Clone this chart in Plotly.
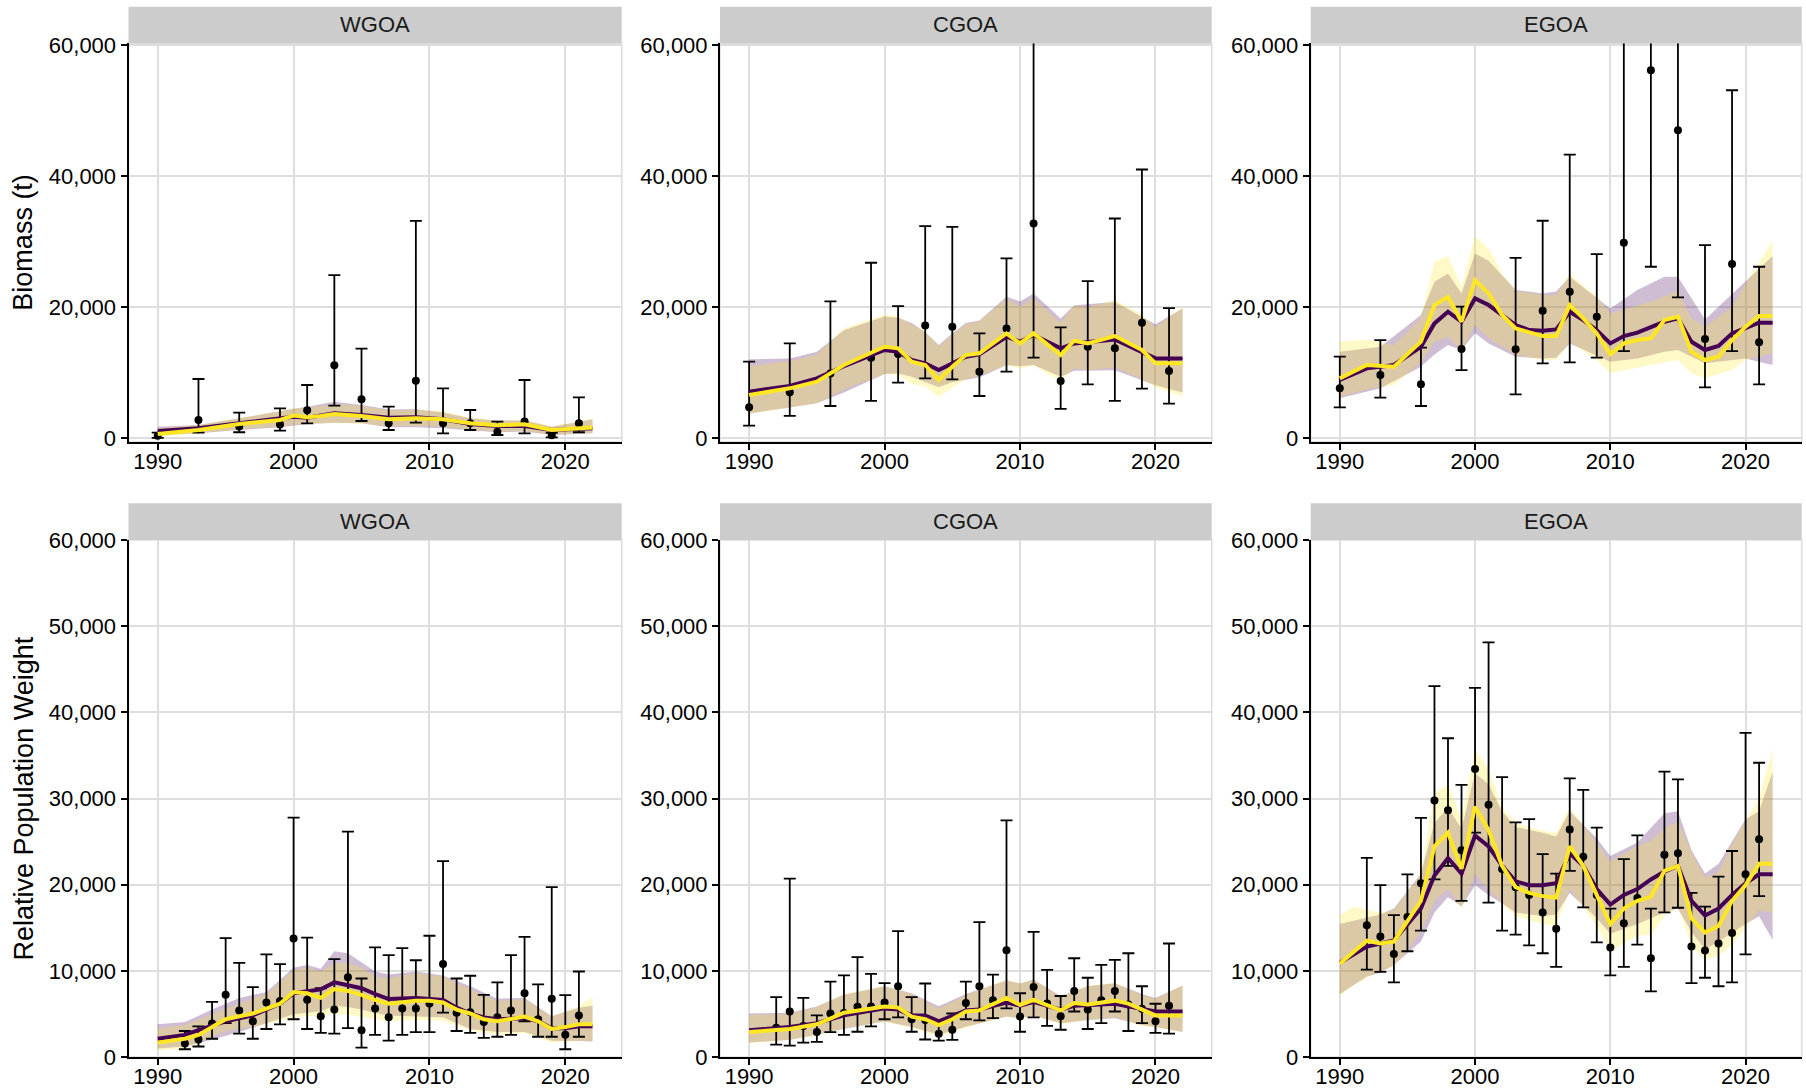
import plotly.graph_objects as go

# ---------------------------------------------------------------------------
# Data
# ---------------------------------------------------------------------------
REGIONS = ["WGOA", "CGOA", "EGOA"]
X_TICKS = [1990, 2000, 2010, 2020]
BIO_Y_TICKS = [0, 20000, 40000, 60000]
RPW_Y_TICKS = [0, 10000, 20000, 30000, 40000, 50000, 60000]

# Bottom trawl survey biomass (t): estimate with lower / upper interval
WGOA_BIO_YEARS = [1990, 1993, 1996, 1999, 2001, 2003, 2005, 2007, 2009, 2011, 2013, 2015, 2017, 2019, 2021]
WGOA_BIO = [400, 2800, 1800, 2100, 4300, 11150, 5950, 2300, 8800, 2300, 2300, 1000, 2550, 450, 2300]
WGOA_BIO_LO = [50, 880, 920, 1170, 2290, 4980, 2640, 1270, 2390, 760, 1270, 500, 760, 150, 920]
WGOA_BIO_HI = [870, 9050, 3920, 4580, 8140, 24920, 13680, 4830, 33200, 7630, 4320, 2540, 8900, 850, 6260]

CGOA_BIO_YEARS = [1990, 1993, 1996, 1999, 2001, 2003, 2005, 2007, 2009, 2011, 2013, 2015, 2017, 2019, 2021]
CGOA_BIO = [4730, 7020, 9900, 12300, 12870, 17240, 17030, 10170, 16780, 32800, 8750, 13980, 13730, 17650, 10270]
CGOA_BIO_LO = [1930, 3410, 4930, 5700, 8490, 9150, 9000, 6460, 10170, 12310, 4480, 8240, 5700, 7580, 5290]
CGOA_BIO_HI = [11700, 14490, 20900, 26800, 20190, 32390, 32290, 16020, 27460, 88000, 16930, 24000, 33560, 41040, 19880]

EGOA_BIO_YEARS = [1990, 1993, 1996, 1999, 2003, 2005, 2007, 2009, 2011, 2013, 2015, 2017, 2019, 2021]
EGOA_BIO = [7630, 9660, 8240, 13630, 13580, 19480, 22370, 18560, 29850, 56190, 47040, 15150, 26600, 14650]
EGOA_BIO_LO = [4730, 6200, 4930, 10420, 6710, 11440, 11590, 12310, 13320, 26190, 21510, 7780, 13320, 8240]
EGOA_BIO_HI = [12460, 15000, 13830, 20090, 27560, 33210, 43320, 28120, 75000, 95000, 80000, 29490, 53140, 26190]

# Longline survey relative population weight
RPW_YEARS = [1992, 1993, 1994, 1995, 1996, 1997, 1998, 1999, 2000, 2001,
             2002, 2003, 2004, 2005, 2006, 2007, 2008, 2009, 2010, 2011,
             2012, 2013, 2014, 2015, 2016, 2017, 2018, 2019, 2020, 2021]

WGOA_RPW = [1580, 2030, 3900, 7220, 5410, 4150, 6320, 6500, 13760, 6630,
            4740, 5500, 9250, 3110, 5640, 4600, 5640, 5640, 6200, 10780,
            5140, 5200, 4060, 4600, 5410, 7400, 4380, 6770, 2570, 4830]
WGOA_RPW_LO = [900, 1220, 2120, 3920, 2710, 2120, 3250, 3790, 4380, 3250,
               2800, 2710, 3340, 1080, 2570, 1890, 2570, 2890, 2890, 5140,
               3020, 2800, 2210, 2350, 2570, 4150, 2350, 2350, 900, 2350]
WGOA_RPW_HI = [3020, 3560, 6400, 13800, 10920, 8120, 11910, 10780, 27790, 13850,
               7980, 11370, 26160, 9110, 12720, 11820, 12630, 11230, 14070, 22730,
               9110, 9430, 7220, 8660, 11820, 13940, 8440, 19710, 7170, 9920]

CGOA_RPW = [3400, 5280, 3600, 2890, 5050, 5100, 5820, 5860, 6320, 8210,
            4380, 4300, 2710, 3160, 6270, 8210, 6600, 12400, 4690, 8120,
            6200, 4740, 7670, 5500, 6600, 7670, 6100, 5600, 4150, 5950]
CGOA_RPW_LO = [1440, 1310, 1670, 1760, 2890, 2570, 2930, 3560, 4380, 4600,
               2930, 2030, 1890, 1990, 4380, 4240, 4510, 5640, 2930, 4600,
               3610, 3160, 5280, 3250, 3920, 5280, 3020, 3920, 2800, 2710]
CGOA_RPW_HI = [6950, 20700, 6860, 4830, 8750, 9470, 11590, 9650, 8570, 14610,
               6950, 8530, 3900, 5050, 8750, 15650, 9560, 27470, 7400, 14520,
               10100, 7080, 11460, 9200, 10690, 11280, 12040, 8210, 6180, 13170]

EGOA_RPW = [15290, 13980, 11950, 16240, 20160, 29770, 28640, 24000, 33420, 29270,
            21830, 19710, 18810, 16780, 14890, 26390, 23230, 18810, 12720, 15520,
            18450, 11460, 23460, 23640, 12810, 12360, 13170, 14390, 21200, 25260]
EGOA_RPW_LO = [10150, 9880, 8660, 12270, 14660, 20610, 22190, 18130, 26030, 17910,
               14660, 14210, 12950, 12040, 10470, 21610, 17370, 13310, 9470, 10470,
               13040, 7620, 16780, 17320, 8570, 9200, 8210, 8660, 11910, 18670]
EGOA_RPW_HI = [23100, 19940, 16460, 21200, 27740, 43030, 36990, 31570, 42850, 48130,
               32480, 27240, 27610, 23550, 21290, 32340, 30990, 26610, 17230, 22960,
               25710, 17230, 33110, 32210, 19040, 17460, 20930, 23910, 37620, 34150]

# Model fits: purple model (M1) and yellow model (M2), each with a 95% band
# -- WGOA biomass
WGOA_BIO_M1_YEARS = [1990, 1993, 1996, 1999, 2000, 2001, 2003, 2005, 2007, 2009, 2011, 2013, 2015, 2017, 2019, 2022]
WGOA_BIO_M1 = [1120, 1530, 2290, 2950, 3300, 3150, 3810, 3560, 3150, 3200, 2900, 2190, 1880, 1880, 1270, 1530]
WGOA_BIO_M1_LO = [510, 760, 1270, 1680, 1900, 2190, 2390, 2290, 1680, 1680, 1530, 1270, 920, 1020, 510, 760]
WGOA_BIO_M1_HI = [1780, 2030, 3050, 4220, 4500, 4830, 5590, 5090, 4420, 4420, 3920, 3050, 2700, 2700, 1780, 2900]
WGOA_BIO_M2_YEARS = [1990, 1993, 1996, 1999, 2000, 2001, 2002, 2003, 2005, 2007, 2009, 2011, 2013, 2015, 2017, 2019, 2022]
WGOA_BIO_M2 = [660, 1270, 2190, 2800, 3460, 3200, 3410, 3710, 3410, 2900, 3050, 2900, 2290, 1980, 2140, 1270, 1630]
WGOA_BIO_M2_LO = [300, 760, 1370, 1780, 2050, 2140, 2240, 2340, 2240, 1830, 1880, 1780, 1320, 1020, 1120, 560, 860]
WGOA_BIO_M2_HI = [1530, 2030, 3100, 4120, 4600, 4680, 4900, 5240, 4980, 4270, 4370, 4120, 3150, 2650, 2850, 1830, 3000]

# -- CGOA biomass
CGOA_BIO_M1_YEARS = [1990, 1993, 1995, 1997, 2000, 2001, 2002, 2003, 2004, 2005, 2006, 2007, 2009, 2010, 2011, 2013, 2014, 2017, 2020, 2022]
CGOA_BIO_M1 = [7120, 8000, 9150, 11000, 13480, 13220, 11950, 11440, 10420, 11440, 12460, 12810, 15510, 14750, 15760, 13730, 14490, 15100, 12200, 12200]
CGOA_BIO_M1_LO = [3800, 4700, 5340, 7000, 9800, 9900, 9400, 8600, 7800, 8600, 9000, 9300, 11200, 11000, 11200, 9400, 10300, 10400, 8100, 7000]
CGOA_BIO_M1_HI = [12050, 12200, 13200, 16500, 18600, 18400, 17600, 16200, 14250, 16000, 17600, 18000, 21600, 20900, 22100, 18300, 20300, 20800, 17400, 19800]
CGOA_BIO_M2_YEARS = [1990, 1993, 1995, 1997, 2000, 2001, 2002, 2003, 2004, 2005, 2006, 2007, 2009, 2010, 2011, 2013, 2014, 2015, 2017, 2019, 2020, 2022]
CGOA_BIO_M2 = [6610, 7630, 8640, 11190, 13980, 13730, 11700, 11190, 8900, 10930, 12710, 12970, 16020, 14490, 16020, 12710, 14900, 14490, 15610, 13480, 11440, 11440]
CGOA_BIO_M2_LO = [3700, 4700, 5340, 7500, 9800, 9700, 8300, 7900, 6350, 7700, 9000, 9500, 11200, 10600, 11100, 8700, 10700, 10400, 10800, 9000, 7800, 6400]
CGOA_BIO_M2_HI = [11000, 11800, 12800, 16800, 18900, 18600, 17300, 16400, 14000, 15800, 17400, 17900, 21300, 20100, 21400, 17600, 20300, 20000, 21100, 18900, 17000, 20000]

# -- EGOA biomass
EGOA_BIO_M1_YEARS = [1990, 1992, 1994, 1996, 1997, 1998, 1999, 2000, 2001, 2002, 2003, 2004, 2005, 2006, 2007,
                     2008, 2009, 2010, 2011, 2012, 2013, 2014, 2015, 2016, 2017, 2018, 2019, 2020, 2021, 2022]
EGOA_BIO_M1 = [8900, 10680, 11190, 13980, 17540, 19320, 17800, 21360, 20340, 18820, 17290, 16530, 16430, 16630, 19320,
               18050, 16500, 14490, 15610, 16120, 17040, 17800, 18310, 14750, 13480, 14090, 16020, 16780, 17650, 17650]
EGOA_BIO_M1_BAND_YEARS = [1990, 1993, 1996, 1997, 1998, 1999, 2000, 2001, 2003, 2005, 2006, 2007, 2010, 2012, 2014,
                          2015, 2017, 2020, 2022]
EGOA_BIO_M1_LO = [6100, 7630, 10930, 12800, 14240, 13480, 16020, 14490, 12460, 12200, 12300, 14490, 11700, 12200, 13200,
                  13480, 11440, 12200, 11190]
EGOA_BIO_M1_HI = [13220, 13980, 18820, 23900, 25170, 22120, 28220, 27100, 22630, 22120, 22400, 24660, 19830, 22630, 24660,
                  24660, 18150, 23900, 27820]
EGOA_BIO_M2_YEARS = EGOA_BIO_M1_YEARS
EGOA_BIO_M2 = [9150, 11190, 10930, 14750, 20340, 21610, 17800, 24150, 22120, 18820, 16780, 16120, 15610, 15610, 20340,
               18310, 16020, 12810, 14490, 15000, 15260, 18050, 18560, 13220, 11950, 12460, 15000, 17040, 18660, 18660]
EGOA_BIO_M2_BAND_YEARS = [1990, 1992, 1994, 1996, 1997, 1998, 1999, 2000, 2001, 2002, 2003, 2005, 2006, 2007, 2009,
                          2010, 2013, 2015, 2016, 2017, 2019, 2020, 2022]
EGOA_BIO_M2_LO = [6360, 7500, 8100, 11700, 14750, 15510, 13480, 17290, 15300, 14000, 12710, 11950, 11900, 14750, 11900,
                  9920, 11190, 11950, 9920, 9150, 10420, 12000, 12970]
EGOA_BIO_M2_HI = [14750, 15100, 14240, 18310, 26950, 27820, 23140, 30870, 28990, 25170, 22530, 21870, 21900, 25070, 21610,
                  19070, 20850, 22500, 18310, 17040, 20000, 23650, 30150]

# -- WGOA RPW
WGOA_RPW_M1_YEARS = [1990, 1992, 1993, 1995, 1997, 1999, 2000, 2001, 2002, 2003, 2004, 2005, 2006, 2007, 2009,
                     2011, 2012, 2013, 2014, 2015, 2017, 2018, 2019, 2020, 2021, 2022]
WGOA_RPW_M1 = [2120, 2570, 3110, 4150, 4830, 6180, 7400, 7670, 7850, 8660, 8300, 7980, 7310, 6720, 6860,
               6630, 5730, 5050, 4600, 4380, 4510, 4150, 3340, 3340, 3560, 3560]
WGOA_RPW_M1_BAND_YEARS = [1990, 1992, 1994, 1996, 1998, 2000, 2001, 2002, 2003, 2004, 2005, 2006, 2007, 2009, 2011,
                          2013, 2015, 2017, 2019, 2021, 2022]
WGOA_RPW_M1_LO = [990, 1220, 2000, 2900, 3920, 4960, 5140, 5300, 5950, 5800, 5500, 5100, 4830, 4690, 4600,
                  3250, 2890, 2900, 1890, 1850, 1800]
WGOA_RPW_M1_HI = [3790, 4060, 5500, 6860, 7530, 10370, 10690, 10240, 12270, 12040, 11000, 9920, 9560, 9920, 9470,
                  8210, 6770, 6860, 4740, 5730, 5950]
WGOA_RPW_M2_YEARS = [1990, 1992, 1993, 1995, 1997, 1999, 2000, 2001, 2002, 2003, 2004, 2005, 2006, 2007, 2009,
                     2010, 2011, 2012, 2013, 2014, 2015, 2016, 2017, 2018, 2019, 2020, 2021, 2022]
WGOA_RPW_M2 = [1670, 2120, 2570, 4380, 5050, 6180, 7530, 7400, 6860, 7890, 7670, 7220, 6630, 6180, 6540,
               6540, 6320, 5500, 5050, 4380, 4150, 4470, 4690, 4150, 3250, 3470, 3790, 3790]
WGOA_RPW_M2_BAND_YEARS = [1990, 1992, 1995, 1998, 2000, 2001, 2002, 2003, 2004, 2005, 2006, 2007, 2009, 2011, 2013,
                          2015, 2017, 2019, 2021, 2022]
WGOA_RPW_M2_LO = [770, 1000, 3020, 3790, 4600, 4700, 4800, 5050, 4900, 4690, 4400, 4150, 4300, 4200, 3100,
                  2570, 2800, 1670, 1850, 1890]
WGOA_RPW_M2_HI = [3300, 3700, 5600, 7300, 10100, 10400, 9900, 10900, 10900, 10400, 9340, 9100, 9790, 9300, 7900,
                  6500, 6700, 4700, 5900, 6950]

# -- CGOA RPW
CGOA_RPW_M1_YEARS = [1990, 1993, 1995, 1997, 2000, 2001, 2002, 2003, 2004, 2005, 2006, 2007, 2009, 2010, 2011,
                     2013, 2014, 2017, 2020, 2022]
CGOA_RPW_M1 = [3110, 3470, 3920, 4830, 5640, 5500, 4830, 4830, 4150, 4830, 5410, 5500, 6320, 5950, 6410,
               5500, 5950, 6180, 5280, 5280]
CGOA_RPW_BAND_YEARS = [1990, 1993, 1995, 1997, 2000, 2002, 2004, 2006, 2009, 2010, 2011, 2013, 2015, 2017, 2019,
                       2020, 2022]
CGOA_RPW_M1_LO = [1670, 1990, 2570, 3250, 4150, 3470, 2600, 3500, 4690, 4500, 4830, 3920, 4300, 4510, 3700, 3470, 2890]
CGOA_RPW_M1_HI = [5050, 5140, 5860, 7220, 8210, 7400, 5900, 7310, 8890, 8530, 8980, 7080, 8210, 8570, 7310, 6860, 8300]
CGOA_RPW_M2_YEARS = [1990, 1993, 1995, 1997, 2000, 2001, 2002, 2003, 2004, 2005, 2006, 2007, 2009, 2010, 2011,
                     2013, 2014, 2015, 2017, 2018, 2020, 2022]
CGOA_RPW_M2 = [2890, 3250, 3790, 5140, 5860, 5730, 4690, 4380, 3700, 4380, 5280, 5410, 6860, 6040, 6630,
               5410, 6270, 6100, 6540, 6200, 4830, 4830]
CGOA_RPW_M2_LO = [1600, 1950, 2500, 3300, 4100, 3400, 2300, 3400, 4700, 4400, 4800, 3800, 4300, 4600, 3600, 3400, 2900]
CGOA_RPW_M2_HI = [4900, 5000, 5800, 7300, 8200, 7300, 5600, 7200, 9000, 8500, 9000, 7000, 8300, 8600, 7200, 6700, 8300]

# -- EGOA RPW
EGOA_RPW_M_YEARS = [1990, 1992, 1993, 1994, 1996, 1997, 1998, 1999, 2000, 2001, 2002, 2003, 2004, 2005, 2006, 2007,
                    2008, 2009, 2010, 2011, 2012, 2013, 2014, 2015, 2016, 2017, 2018, 2019, 2020, 2021, 2022]
EGOA_RPW_M1 = [10920, 12810, 13170, 13530, 17230, 21070, 23090, 21290, 25710, 24450, 22190, 20390, 19940, 19940, 20160,
               23640, 22190, 19490, 17680, 18810, 19490, 20610, 21520, 22190, 18130, 16420, 17230, 18810, 20160, 21200,
               21200]
EGOA_RPW_M1_BAND_YEARS = [1990, 1992, 1993, 1994, 1996, 1997, 1998, 1999, 2000, 2001, 2002, 2003, 2005, 2006, 2007,
                          2009, 2010, 2012, 2014, 2015, 2016, 2017, 2018, 2020, 2021, 2022]
EGOA_RPW_M1_LO = [7310, 9340, 9790, 10690, 13400, 16780, 18580, 17460, 19940, 18810, 17800, 16780, 16330, 16550, 19040,
                  16100, 14300, 15430, 16780, 17230, 14520, 12500, 13400, 15430, 16330, 13620]
EGOA_RPW_M1_HI = [15430, 16200, 16550, 17230, 21290, 27150, 28960, 26480, 32930, 31660, 28510, 26700, 26030, 25580, 28510,
                  25350, 23320, 24900, 28280, 28510, 24000, 21290, 22420, 27600, 28510, 33110]
EGOA_RPW_M2 = [10830, 13490, 13170, 13400, 18130, 24450, 26030, 21830, 29050, 26340, 22190, 19710, 19040, 18670, 18490,
               24450, 22190, 18940, 15430, 17230, 18130, 18580, 21610, 22190, 16100, 14430, 15200, 18130, 19940, 22420,
               22420]
EGOA_RPW_M2_BAND_YEARS = [1990, 1991, 1993, 1994, 1996, 1997, 1998, 1999, 2000, 2001, 2002, 2003, 2005, 2006, 2007,
                          2009, 2010, 2012, 2013, 2014, 2015, 2016, 2017, 2018, 2019, 2020, 2021, 2022]
EGOA_RPW_M2_LO = [7080, 8300, 10010, 10470, 14520, 18130, 19490, 17230, 21200, 19500, 17800, 16330, 15430, 15200, 19490,
                  15200, 12270, 14070, 14160, 16330, 17460, 12950, 11370, 11730, 13000, 14980, 17010, 16780]
EGOA_RPW_M2_HI = [16420, 17460, 16780, 17010, 21290, 30540, 31660, 27610, 35630, 33470, 28960, 27150, 26250, 26030, 28960,
                  24900, 22730, 24500, 25120, 26500, 27380, 23770, 20840, 21500, 24670, 27380, 30090, 35720]

# ---------------------------------------------------------------------------
# Panel table (row 0 = biomass, row 1 = RPW)
# ---------------------------------------------------------------------------
PANELS = [
    dict(row=0, col=0, obs=(WGOA_BIO_YEARS, WGOA_BIO, WGOA_BIO_LO, WGOA_BIO_HI),
         m1=(WGOA_BIO_M1_YEARS, WGOA_BIO_M1), m1_band=(WGOA_BIO_M1_YEARS, WGOA_BIO_M1_LO, WGOA_BIO_M1_HI),
         m2=(WGOA_BIO_M2_YEARS, WGOA_BIO_M2), m2_band=(WGOA_BIO_M2_YEARS, WGOA_BIO_M2_LO, WGOA_BIO_M2_HI)),
    dict(row=0, col=1, obs=(CGOA_BIO_YEARS, CGOA_BIO, CGOA_BIO_LO, CGOA_BIO_HI),
         m1=(CGOA_BIO_M1_YEARS, CGOA_BIO_M1), m1_band=(CGOA_BIO_M1_YEARS, CGOA_BIO_M1_LO, CGOA_BIO_M1_HI),
         m2=(CGOA_BIO_M2_YEARS, CGOA_BIO_M2), m2_band=(CGOA_BIO_M2_YEARS, CGOA_BIO_M2_LO, CGOA_BIO_M2_HI)),
    dict(row=0, col=2, obs=(EGOA_BIO_YEARS, EGOA_BIO, EGOA_BIO_LO, EGOA_BIO_HI),
         m1=(EGOA_BIO_M1_YEARS, EGOA_BIO_M1), m1_band=(EGOA_BIO_M1_BAND_YEARS, EGOA_BIO_M1_LO, EGOA_BIO_M1_HI),
         m2=(EGOA_BIO_M2_YEARS, EGOA_BIO_M2), m2_band=(EGOA_BIO_M2_BAND_YEARS, EGOA_BIO_M2_LO, EGOA_BIO_M2_HI)),
    dict(row=1, col=0, obs=(RPW_YEARS, WGOA_RPW, WGOA_RPW_LO, WGOA_RPW_HI),
         m1=(WGOA_RPW_M1_YEARS, WGOA_RPW_M1), m1_band=(WGOA_RPW_M1_BAND_YEARS, WGOA_RPW_M1_LO, WGOA_RPW_M1_HI),
         m2=(WGOA_RPW_M2_YEARS, WGOA_RPW_M2), m2_band=(WGOA_RPW_M2_BAND_YEARS, WGOA_RPW_M2_LO, WGOA_RPW_M2_HI)),
    dict(row=1, col=1, obs=(RPW_YEARS, CGOA_RPW, CGOA_RPW_LO, CGOA_RPW_HI),
         m1=(CGOA_RPW_M1_YEARS, CGOA_RPW_M1), m1_band=(CGOA_RPW_BAND_YEARS, CGOA_RPW_M1_LO, CGOA_RPW_M1_HI),
         m2=(CGOA_RPW_M2_YEARS, CGOA_RPW_M2), m2_band=(CGOA_RPW_BAND_YEARS, CGOA_RPW_M2_LO, CGOA_RPW_M2_HI)),
    dict(row=1, col=2, obs=(RPW_YEARS, EGOA_RPW, EGOA_RPW_LO, EGOA_RPW_HI),
         m1=(EGOA_RPW_M_YEARS, EGOA_RPW_M1), m1_band=(EGOA_RPW_M1_BAND_YEARS, EGOA_RPW_M1_LO, EGOA_RPW_M1_HI),
         m2=(EGOA_RPW_M_YEARS, EGOA_RPW_M2), m2_band=(EGOA_RPW_M2_BAND_YEARS, EGOA_RPW_M2_LO, EGOA_RPW_M2_HI)),
]

for p in PANELS:
    for key in ("m1", "m2"):
        assert len(p[key][0]) == len(p[key][1]), (p["row"], p["col"], key)
    for key in ("m1_band", "m2_band"):
        assert len(p[key][0]) == len(p[key][1]) == len(p[key][2]), (p["row"], p["col"], key)
    assert len(p["obs"][0]) == len(p["obs"][1]) == len(p["obs"][2]) == len(p["obs"][3])

# ---------------------------------------------------------------------------
# Styling / layout geometry (pixels of the 1806 x 1090 page)
# ---------------------------------------------------------------------------
W, H = 1806, 1090
FONT = "Liberation Sans, Arial, sans-serif"
PURPLE = "#440154"
YELLOW = "#FDE725"
PURPLE_FILL = "rgba(68,1,84,0.26)"
YELLOW_FILL = "rgba(253,231,37,0.26)"
GRID = "#DEDEDE"
STRIP = "#CCCCCC"

X_PANELS = [(128.5, 621.7), (720.0, 1211.7), (1310.7, 1801.7)]
ROW_PLOT = [(43.3, 442.0), (540.0, 1057.0)]
ROW_STRIP = [(6.7, 43.3), (503.3, 540.0)]
Y_RANGES = [[-565, 60305], [0, 60000]]
Y_TICKS = [BIO_Y_TICKS, RPW_Y_TICKS]
Y_TITLES = ["Biomass (t)", "Relative Population Weight"]
X_RANGE = [1987.85, 2024.15]


def px_x(v):
    return v / W


def px_y(v):
    return 1 - v / H


fig = go.Figure()
layout = dict(
    width=W, height=H, margin=dict(l=0, r=0, t=0, b=0, pad=0), autosize=False,
    paper_bgcolor="white", plot_bgcolor="white", showlegend=False,
    font=dict(family=FONT, color="black"),
    shapes=[], annotations=[],
)

for i, p in enumerate(PANELS):
    n = i + 1
    xa, ya = ("x", "y") if n == 1 else (f"x{n}", f"y{n}")
    row, col = p["row"], p["col"]

    # uncertainty bands
    for (yrs, lo, hi), fill in ((p["m1_band"], PURPLE_FILL), (p["m2_band"], YELLOW_FILL)):
        fig.add_trace(go.Scatter(
            x=list(yrs) + list(yrs)[::-1], y=list(hi) + list(lo)[::-1],
            fill="toself", fillcolor=fill, mode="lines", line=dict(width=0),
            hoverinfo="skip", xaxis=xa, yaxis=ya))

    # survey observations with intervals
    oy, ov, olo, ohi = p["obs"]
    fig.add_trace(go.Scatter(
        x=oy, y=ov, mode="markers",
        marker=dict(color="black", size=8),
        error_y=dict(type="data", symmetric=False,
                     array=[h - v for v, h in zip(ov, ohi)],
                     arrayminus=[v - l for v, l in zip(ov, olo)],
                     color="black", thickness=1.8, width=6),
        xaxis=xa, yaxis=ya))

    # model fits
    for (yrs, vals), color in ((p["m1"], PURPLE), (p["m2"], YELLOW)):
        fig.add_trace(go.Scatter(
            x=yrs, y=vals, mode="lines", line=dict(color=color, width=4),
            xaxis=xa, yaxis=ya))

    x0, x1 = X_PANELS[col]
    y0, y1 = ROW_PLOT[row]
    xkey = "xaxis" if n == 1 else f"xaxis{n}"
    ykey = "yaxis" if n == 1 else f"yaxis{n}"
    layout[xkey] = dict(
        domain=[px_x(x0), px_x(x1)], range=X_RANGE, anchor=ya, automargin=False,
        tickmode="array", tickvals=X_TICKS, showgrid=True, gridcolor=GRID, gridwidth=1.8,
        zeroline=False, showline=True, linecolor="black", linewidth=2,
        ticks="outside", ticklen=6, tickwidth=2, tickcolor="black",
        ticklabelstandoff=-7,
        tickfont=dict(family=FONT, size=22, color="black"))
    layout[ykey] = dict(
        domain=[px_y(y1), px_y(y0)], range=Y_RANGES[row], anchor=xa, automargin=False,
        tickmode="array", tickvals=Y_TICKS[row], tickformat=",d",
        showgrid=True, gridcolor=GRID, gridwidth=1.8,
        zeroline=False, showline=True, linecolor="black", linewidth=2,
        ticks="outside", ticklen=6, tickwidth=2, tickcolor="black",
        tickfont=dict(family=FONT, size=22, color="black"))

    # light panel frame
    layout["shapes"].append(dict(
        type="rect", xref="paper", yref="paper", layer="below",
        x0=px_x(x0), x1=px_x(x1), y0=px_y(y1), y1=px_y(y0),
        line=dict(color=GRID, width=1.6), fillcolor="rgba(0,0,0,0)"))

    # facet strip
    s0, s1 = ROW_STRIP[row]
    layout["shapes"].append(dict(
        type="rect", xref="paper", yref="paper", layer="above",
        x0=px_x(x0), x1=px_x(x1), y0=px_y(s1), y1=px_y(s0),
        line=dict(width=0), fillcolor=STRIP))
    layout["annotations"].append(dict(
        text=REGIONS[col], xref="paper", yref="paper", showarrow=False,
        x=px_x((x0 + x1) / 2), y=px_y((s0 + s1) / 2),
        xanchor="center", yanchor="middle",
        font=dict(family=FONT, size=22, color="#1A1A1A")))

for row in range(2):
    y0, y1 = ROW_PLOT[row]
    layout["annotations"].append(dict(
        text=Y_TITLES[row], xref="paper", yref="paper", showarrow=False,
        x=px_x(23), y=px_y((y0 + y1) / 2), textangle=-90,
        xanchor="center", yanchor="middle",
        font=dict(family=FONT, size=27, color="black")))

fig.update_layout(**layout)
fig.write_html("out.html")
